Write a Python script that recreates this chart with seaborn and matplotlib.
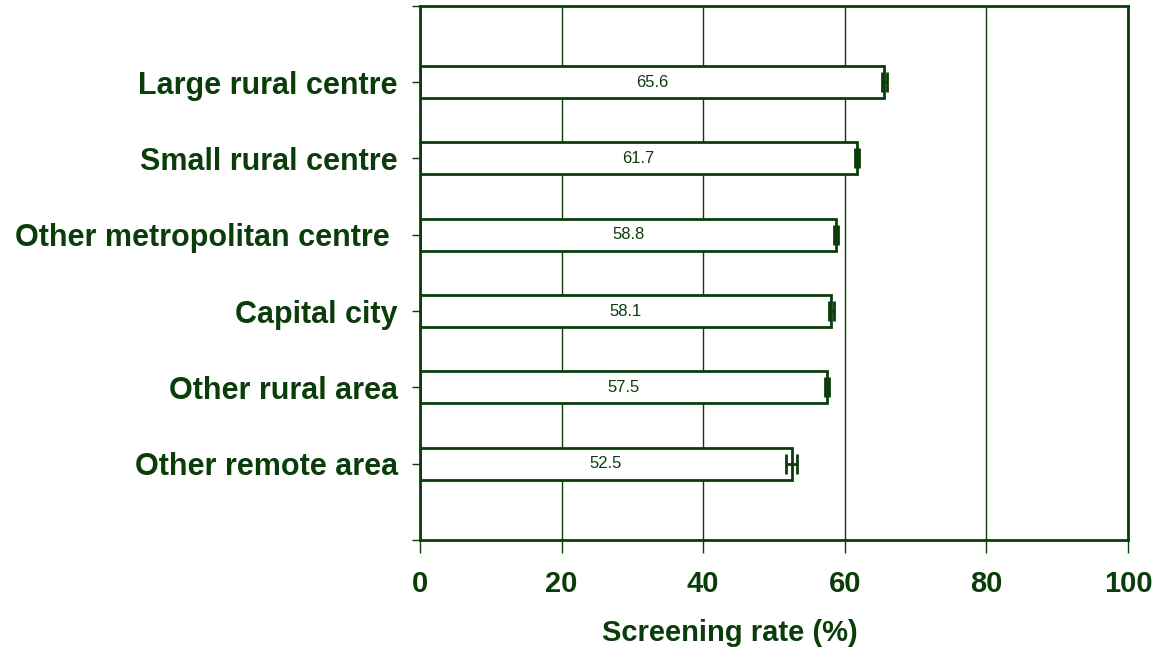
import matplotlib
matplotlib.use("Agg")
import matplotlib.pyplot as plt
import seaborn as sns
import pandas as pd

# DATA
categories = ["Large rural centre", "Small rural centre", "Other metropolitan centre ",
              "Capital city", "Other rural area", "Other remote area"]
rates = [65.6, 61.7, 58.8, 58.1, 57.5, 52.5]
ci_half = [0.3, 0.3, 0.3, 0.3, 0.3, 0.8]
value_labels = ["65.6", "61.7", "58.8", "58.1", "57.5", "52.5"]
x_ticks = [0, 20, 40, 60, 80, 100]

df = pd.DataFrame({"area": categories, "rate": rates})

green = "#0b3d0b"

sns.set_theme(style="white")
plt.rcParams["font.family"] = ["Liberation Sans", "DejaVu Sans"]

fig = plt.figure(figsize=(11.57, 6.52), dpi=100)
ax = fig.add_axes([0.363, 0.172, 0.612, 0.819])

# grid first so bars sit on top
ax.set_axisbelow(True)
ax.xaxis.grid(True, color=green, linewidth=1)

sns.barplot(data=df, x="rate", y="area", orient="h", color="white",
            edgecolor=green, linewidth=2, width=0.42, ax=ax, errorbar=None)

ax.errorbar(rates, range(len(rates)), xerr=ci_half, fmt="none",
            ecolor=green, elinewidth=2, capsize=7, capthick=2, zorder=5)

for i, (v, lab) in enumerate(zip(rates, value_labels)):
    ax.text(v / 2, i, lab, ha="center", va="center", fontsize=12, color=green)

ax.set_xlim(0, 100)
ax.set_ylim(len(categories), -1)
ax.set_xticks(x_ticks)
ax.set_xticklabels([str(t) for t in x_ticks], fontsize=21, fontweight="bold", color=green)
ax.set_yticks(range(-1, len(categories) + 1))
ax.set_yticklabels([""] + categories + [""], fontsize=22, fontweight="bold", color=green)

ax.tick_params(axis="x", direction="out", length=9, width=1, color=green, pad=13, bottom=True)
ax.tick_params(axis="y", direction="out", length=6, width=1, color=green, pad=10, left=True)

for side in ["left", "right", "top", "bottom"]:
    ax.spines[side].set_visible(True)
    ax.spines[side].set_color(green)
    ax.spines[side].set_linewidth(2)

ax.set_xlabel("Screening rate (%)", fontsize=21, fontweight="bold", color=green)
ax.xaxis.set_label_coords(0.438, -0.148)
ax.set_ylabel("")

fig.savefig("out.png", dpi=100, facecolor="white")
